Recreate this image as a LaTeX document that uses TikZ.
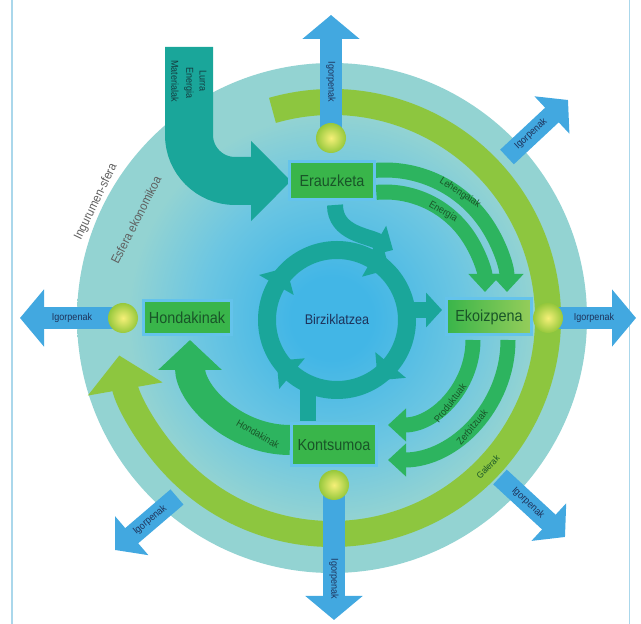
\documentclass[tikz,border=0pt]{standalone}
\usepackage{fontspec}
\setmainfont{Liberation Sans}[FakeStretch=0.9]
\usetikzlibrary{arrows.meta,calc}

\definecolor{bandc}{RGB}{147,211,210}
\definecolor{skyc}{RGB}{66,182,230}
\definecolor{midc}{RGB}{108,198,226}
\definecolor{limec}{RGB}{141,198,63}
\definecolor{greenc}{RGB}{45,180,95}
\definecolor{boxc}{RGB}{57,181,74}
\definecolor{boxlight}{RGB}{150,205,90}
\definecolor{boxedge}{RGB}{100,195,235}
\definecolor{tealc}{RGB}{26,166,154}
\definecolor{bluec}{RGB}{66,168,224}
\definecolor{navyc}{RGB}{30,50,90}
\definecolor{dgreen}{RGB}{25,85,40}
\definecolor{dteal}{RGB}{20,60,64}
\definecolor{greyc}{RGB}{95,95,95}
\definecolor{ballin}{RGB}{246,240,120}
\definecolor{ballout}{RGB}{150,200,60}
\definecolor{framec}{RGB}{170,215,235}

\pgfdeclareradialshading{diskshade}{\pgfpoint{0bp}{0bp}}{color(0bp)=(skyc); color(4bp)=(skyc); color(13bp)=(midc); color(20bp)=(bandc); color(25bp)=(bandc); color(50bp)=(bandc)}

\begin{document}
\begin{tikzpicture}[x=1pt,y=1pt,
  box/.style={draw=boxedge, line width=3pt, fill=boxc, minimum width=85pt, minimum height=38pt, inner sep=2pt, text=dgreen, font=\fontsize{16}{16}\selectfont},
  bulb/.style={circle, minimum size=30pt, inner sep=0pt, inner color=ballin, outer color=ballout},
  bluearrow/.style={draw=bluec, line width=22pt, -{Triangle[width=56pt,length=24pt]}},
  diagarrow/.style={draw=bluec, line width=20pt, -{Triangle[width=50pt,length=22pt]}},
  ig/.style={text=navyc, font=\fontsize{10}{10}\selectfont, inner sep=0pt},
  gl/.style={text=dgreen, font=\fontsize{10}{10}\selectfont, inner sep=0pt},
  garrow/.style={draw=greenc, line width=15pt, -{Triangle[width=32pt,length=18pt]}},
  tl/.style={text=dteal, font=\fontsize{10}{10}\selectfont, inner sep=0pt, rotate=-90},
  sl/.style={text=greyc, font=\fontsize{12.5}{12.5}\selectfont, inner sep=0pt},
]
\useasboundingbox (0,0) rectangle (641,624);
\coordinate (C) at (332,306);
\coordinate (T) at (337,304);
\coordinate (A) at (385,332);
\coordinate (B) at (388,284);
\coordinate (D) at (290,284);

% frame lines
\draw[framec, line width=1.5pt] (12,0) -- (12,624);
\draw[framec, line width=1pt] (629,0) -- (629,624);

% spheres
\shade[shading=diskshade] (C) circle[radius=255];

% green ring
\draw[limec, line width=26pt, -{Triangle[width=74pt,length=34pt]}] ($(C)+(106:216)$) arc[start angle=106, end angle=-170, radius=216];

% sphere labels
\node[sl, rotate=64] (s1) at (96,422) {Ingurumen-sfera};
\node[sl, rotate=63] (s2) at (136,404) {Esfera ekonomikoa};

% input teal arrow
\draw[tealc, line width=48pt, -{Triangle[width=78pt,length=40pt]}] (189,577) -- (189,489) arc[start angle=180, end angle=270, radius=46] -- (291,443);
\node[tl] (t1) at (175,543) {Materialak};
\node[tl] (t2) at (189,541) {Energia};
\node[tl] (t3) at (203,543) {Lurra};

% recycling ring
\draw[tealc, line width=18pt] (T) circle[radius=70];
\begin{scope}[shift={(337,304)}]
\foreach \a in {60,-40,-130,150} {\fill[tealc, rotate=\a] (50,0) -- (90,0) -- (70,-20) -- cycle;}
\end{scope}
\draw[tealc, line width=16pt, -{Triangle[width=34pt,length=18pt]}] (335,419) to[out=-90, in=150] (393,374);
\draw[tealc, line width=16pt, -{Triangle[width=34pt,length=16pt]}] (400,314) -- (442,314);
\draw[tealc, line width=16pt] (308,238) -- (308,203);

% inner green flows
\draw[garrow] ($(A)+(95:122)$) arc[start angle=95, end angle=0, radius=122];
\draw[garrow] ($(A)+(95:100)$) arc[start angle=95, end angle=0, radius=100];
\draw[garrow] ($(B)+(0:85)$) arc[start angle=0, end angle=-90, radius=85];
\draw[garrow] ($(B)+(0:120)$) arc[start angle=0, end angle=-90, radius=120];
\draw[greenc, line width=30pt, -{Triangle[width=62pt,length=30pt]}] ($(D)+(-90:100)$) arc[start angle=-90, end angle=-180, radius=100];

% emission arrows
\draw[bluearrow] (331,486) -- (331,609);
\draw[bluearrow] (334,139) -- (334,4);
\draw[bluearrow] (123,306) -- (20,306);
\draw[bluearrow] (548,306) -- (636,306);
\draw[diagarrow] (507,467) -- (568,524);
\draw[diagarrow] (500,147) -- (565,87);
\draw[diagarrow] (177,127) -- (115,74);

\node[ig, rotate=-90] (i1) at (331,542) {Igorpenak};
\node[ig, rotate=-90] (i2) at (334,45) {Igorpenak};
\node[ig] (i3) at (72,306) {Igorpenak};
\node[ig] (i4) at (594,306) {Igorpenak};
\node[ig, rotate=43] (i5) at (531,490) {Igorpenak};
\node[ig, rotate=-43] (i6) at (528,121) {Igorpenak};
\node[ig, rotate=40] (i7) at (150,104) {Igorpenak};

% balls
\node[bulb] (b1) at (331,486) {};
\node[bulb] (b2) at (548,306) {};
\node[bulb] (b3) at (123,306) {};
\node[bulb] (b4) at (334,139) {};

% boxes
\node[box] (er) at (332,443) {Erauzketa};
\node[box, left color=boxc, right color=boxlight, minimum height=36pt] (ek) at (489,307) {Ekoizpena};
\node[box, minimum width=88pt, minimum height=34pt] (ho) at (187,306) {Hondakinak};
\node[box, minimum height=42pt] (ko) at (334,179) {Kontsumoa};

\node[text=navyc, font=\fontsize{14}{14}\selectfont] (bi) at (T) {Birziklatzea};

% flow labels
\node[gl, rotate=-33] (l1) at (460,431) {Lehengaiak};
\node[gl, rotate=-30] (l2) at (443,412) {Energia};
\node[gl, rotate=52] (l3) at (450,221) {Produktuak};
\node[gl, rotate=50] (l4) at (472,197) {Zerbitzuak};
\node[gl, rotate=-30] (l5) at (258,190) {Hondakinak};
\node[gl, rotate=46, font=\fontsize{9}{9}\selectfont] (l6) at (488,157) {Galerak};
\end{tikzpicture}
\end{document}
